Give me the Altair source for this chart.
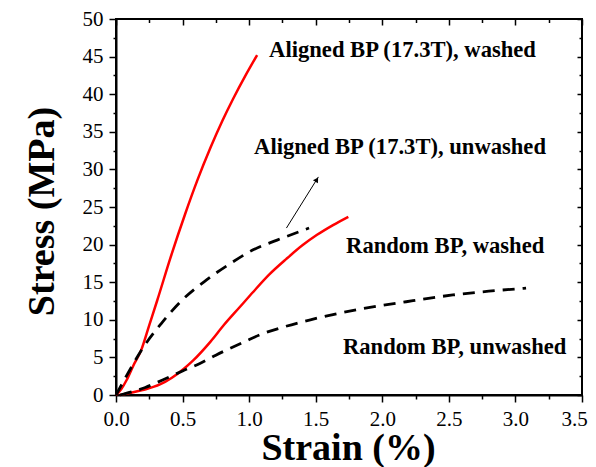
import altair as alt
import pandas as pd

# ---------------- data ----------------
aw_strain = [0.0, 0.04, 0.08, 0.13, 0.19, 0.25, 0.31, 0.41, 0.52, 0.61, 0.71, 0.80, 0.88, 0.97, 1.06]
aw_stress = [0.0, 0.8, 2.0, 3.9, 6.0, 9.3, 12.6, 18.3, 24.1, 28.5, 32.9, 36.5, 39.4, 42.4, 45.2]

au_strain = [0.0, 0.04, 0.09, 0.20, 0.34, 0.49, 0.68, 0.86, 1.03, 1.21, 1.45]
au_stress = [0.0, 1.3, 2.9, 6.2, 9.5, 12.5, 15.3, 17.5, 19.3, 20.6, 22.2]

rw_strain = [0.03, 0.20, 0.33, 0.42, 0.51, 0.58, 0.71, 0.81, 0.93, 1.03, 1.15, 1.28, 1.40, 1.51, 1.63, 1.745]
rw_stress = [0.0, 0.66, 1.4, 2.3, 3.5, 4.6, 7.1, 9.3, 11.7, 13.7, 16.0, 18.1, 19.9, 21.3, 22.6, 23.7]

ru_strain = [0.03, 0.22, 0.35, 0.50, 0.63, 0.75, 0.98, 1.08, 1.25, 1.46, 1.83, 2.18, 2.53, 2.80, 3.08]
ru_stress = [0.0, 1.0, 2.0, 3.2, 4.2, 5.3, 7.2, 8.0, 9.0, 10.0, 11.4, 12.4, 13.3, 13.8, 14.2]

series_names = ["Aligned washed", "Aligned unwashed", "Random washed", "Random unwashed"]
series_kind = ["washed", "unwashed", "washed", "unwashed"]

label_texts = ["Aligned BP (17.3T), washed", "Aligned BP (17.3T), unwashed",
               "Random BP, washed", "Random BP, unwashed"]
label_x = [1.15, 1.037, 1.728, 1.705]
label_y = [44.9, 32.05, 18.92, 5.45]

arrow_start = [1.28, 22.2]
arrow_end = [1.52, 29.0]

x_major = [0.0, 0.5, 1.0, 1.5, 2.0, 2.5, 3.0, 3.5]
x_minor = [0.25, 0.75, 1.25, 1.75, 2.25, 2.75, 3.25]
y_major = [0, 5, 10, 15, 20, 25, 30, 35, 40, 45, 50]
y_minor = [2.5, 7.5, 12.5, 17.5, 22.5, 27.5, 32.5, 37.5, 42.5, 47.5]

# ---------------- tables ----------------
frames = []
for name, kind, xs_, ys_ in zip(series_names, series_kind,
                                [aw_strain, au_strain, rw_strain, ru_strain],
                                [aw_stress, au_stress, rw_stress, ru_stress]):
    frames.append(pd.DataFrame({"strain": xs_, "stress": ys_, "series": name, "kind": kind}))
lines_df = pd.concat(frames, ignore_index=True)

labels_df = pd.DataFrame({"label": label_texts, "x": label_x, "y": label_y})
arrow_df = pd.DataFrame({"x0": [arrow_start[0]], "y0": [arrow_start[1]],
                         "x1": [arrow_end[0]], "y1": [arrow_end[1]]})
head_df = pd.DataFrame({"x": [arrow_end[0] - 0.012], "y": [arrow_end[1] - 0.35]})

FONT = "Liberation Serif"
xs = alt.Scale(domain=[0, 3.5], nice=False, zero=False)
ys = alt.Scale(domain=[0, 50], nice=False, zero=False)

base = alt.Chart(lines_df)

washed = base.transform_filter(alt.datum.kind == "washed").mark_line(
    color="#ff0000", strokeWidth=2.5, interpolate="monotone"
).encode(
    x=alt.X("strain:Q", scale=xs, axis=None),
    y=alt.Y("stress:Q", scale=ys, axis=None),
    detail="series:N",
)

unwashed = base.transform_filter(alt.datum.kind == "unwashed").mark_line(
    color="black", strokeWidth=2.8, strokeDash=[12, 8], interpolate="monotone"
).encode(
    x=alt.X("strain:Q", scale=xs, axis=None),
    y=alt.Y("stress:Q", scale=ys, axis=None),
    detail="series:N",
)

texts = alt.Chart(labels_df).mark_text(
    align="left", baseline="alphabetic", font=FONT, fontWeight="bold",
    fontSize=22.6, color="black"
).encode(
    x=alt.X("x:Q", scale=xs, axis=None),
    y=alt.Y("y:Q", scale=ys, axis=None),
    text="label:N",
)

arrow = alt.Chart(arrow_df).mark_rule(color="black", strokeWidth=1).encode(
    x=alt.X("x0:Q", scale=xs, axis=None),
    y=alt.Y("y0:Q", scale=ys, axis=None),
    x2="x1:Q",
    y2="y1:Q",
)

head = alt.Chart(head_df).mark_point(
    shape="triangle-up", filled=True, size=35, angle=32, color="black", opacity=1
).encode(
    x=alt.X("x:Q", scale=xs, axis=None),
    y=alt.Y("y:Q", scale=ys, axis=None),
)

common = dict(grid=False, tickColor="black", tickWidth=1.5, labelColor="black",
              labelFont=FONT, labelFontSize=21, labelFlush=False, labelOverlap=False)

major_bl = alt.Chart(lines_df).mark_point(opacity=0).encode(
    x=alt.X("strain:Q", scale=xs, axis=alt.Axis(
        orient="bottom", values=x_major, format=".1f", tickSize=7, labelPadding=6,
        labelOffset={"condition": {"test": "datum.value >= 3.5", "value": -8}, "value": 0},
        domain=True, domainColor="black", domainWidth=2,
        title="Strain (%)", titleFont=FONT, titleFontSize=38, titleFontWeight="bold",
        titleColor="black", titleX=232, titleY=64, titleAlign="center",
        titleBaseline="alphabetic", titleAngle=0, **common)),
    y=alt.Y("stress:Q", scale=ys, axis=alt.Axis(
        orient="left", values=y_major, format="d", tickSize=7, labelPadding=6,
        domain=True, domainColor="black", domainWidth=2,
        title="Stress (MPa)", titleFont=FONT, titleFontSize=38, titleFontWeight="bold",
        titleColor="black", titleX=-63, titleY=192, titleAlign="center",
        titleBaseline="alphabetic", titleAngle=270, **common)),
)

minor_bl = alt.Chart(lines_df).mark_point(opacity=0).encode(
    x=alt.X("strain:Q", scale=xs, title=None, axis=alt.Axis(
        orient="bottom", values=x_minor, tickSize=4, labels=False, domain=False,
        grid=False, tickColor="black", tickWidth=1.5)),
    y=alt.Y("stress:Q", scale=ys, title=None, axis=alt.Axis(
        orient="left", values=y_minor, tickSize=3, labels=False, domain=False,
        grid=False, tickColor="black", tickWidth=1.5)),
)

major_tr = alt.Chart(lines_df).mark_point(opacity=0).encode(
    x=alt.X("strain:Q", scale=xs, title=None, axis=alt.Axis(
        orient="top", values=x_major, tickSize=6, offset=-6, labels=False, domain=False,
        grid=False, tickColor="black", tickWidth=1.5)),
    y=alt.Y("stress:Q", scale=ys, title=None, axis=alt.Axis(
        orient="right", values=y_major, tickSize=5, offset=-5, labels=False, domain=False,
        grid=False, tickColor="black", tickWidth=1.5)),
)

minor_tr = alt.Chart(lines_df).mark_point(opacity=0).encode(
    x=alt.X("strain:Q", scale=xs, title=None, axis=alt.Axis(
        orient="top", values=x_minor, tickSize=3.5, offset=-3.5, labels=False, domain=False,
        grid=False, tickColor="black", tickWidth=1.5)),
    y=alt.Y("stress:Q", scale=ys, title=None, axis=alt.Axis(
        orient="right", values=y_minor, tickSize=3, offset=-3, labels=False, domain=False,
        grid=False, tickColor="black", tickWidth=1.5)),
)

chart = alt.layer(
    major_bl, minor_bl, major_tr, minor_tr, washed, unwashed, arrow, head, texts
).resolve_axis(
    x="independent", y="independent"
).properties(
    width=466, height=376,
    autosize=alt.AutoSizeParams(type="none"),
    padding={"left": 108, "top": 11, "right": 6, "bottom": 74},
    background="white",
).configure_view(
    stroke="black", strokeWidth=2
)

chart.save("out.html", embed_options={"renderer": "svg", "actions": False})
